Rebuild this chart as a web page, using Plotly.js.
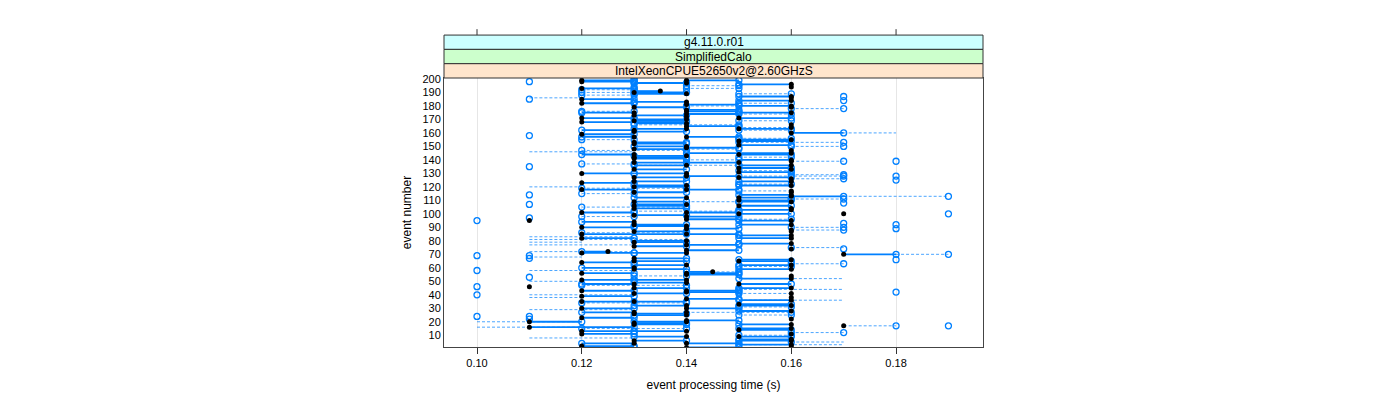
<!DOCTYPE html>
<html><head><meta charset="utf-8">
<script src="https://cdn.plot.ly/plotly-3.0.1.min.js"></script>
<style>html,body{margin:0;padding:0;background:#fff}#c{width:1400px;height:400px}</style>
</head><body><div id="c"></div>
<script>
// rows: event number, black (reference) time, blue time joined by a solid line, blue time joined by a dashed line
const evt = [
200,199,199,198,198,197,197,196,195,194,194,193,193,192,191,190,190,189,189,188,187,187,186,185,185,184,184,183,182,182,181,
180,179,179,178,177,176,176,175,175,174,173,172,171,171,170,169,169,168,167,166,166,165,164,163,163,162,162,161,
160,159,158,157,157,156,155,155,154,153,153,152,151,150,150,149,148,147,147,145,144,144,143,142,142,141,
140,139,139,138,138,137,136,136,135,134,133,133,132,131,130,130,129,128,128,127,127,126,125,124,124,123,122,121,121,120,
119,118,118,117,116,116,115,114,114,113,112,112,111,110,109,109,108,107,107,106,106,105,104,104,103,102,101,101,
100,100,100,99,98,98,97,96,95,95,95,94,93,92,92,92,91,90,90,89,89,88,87,87,86,85,85,84,82,82,
80,79,78,77,76,75,74,74,73,72,71,71,70,69,69,67,67,66,66,65,65,64,63,62,62,61,
60,59,59,58,57,56,56,55,54,54,53,52,51,51,49,48,48,47,46,46,45,45,44,43,43,42,42,41,41,
40,39,38,37,36,35,35,34,33,32,32,31,30,30,28,27,27,26,25,25,24,24,23,22,22,21,
20,20,19,18,18,17,17,16,15,15,14,13,13,12,11,11,10,9,9,7,6,6,5,4,4,3,2,2,1,1];
const tBlack = [
null,.12,.14,null,.12,null,.14,.16,null,null,.16,null,.12,null,.135,.13,null,null,.14,null,null,.16,.16,.12,null,null,.16,.14,null,.12,.14,
.16,.13,.16,null,.14,null,.14,.13,.16,.14,.13,.14,.15,.12,.14,null,.13,.12,.14,null,.16,.14,.16,.14,.15,null,.13,.13,
.16,.12,null,.13,.14,null,null,.16,.15,null,.13,.13,.15,null,.14,.14,.13,null,.16,.16,.13,.15,.14,null,.13,.13,
.16,.16,null,.13,.15,null,.14,.16,null,.15,.13,.16,null,.15,.14,.12,null,null,.14,.13,.15,.16,null,.16,.13,.12,null,.14,.16,.13,
null,.14,.12,.16,.13,.16,null,null,.16,.16,.14,.15,null,.15,.13,.16,null,null,.14,.15,.13,null,.13,.16,.16,null,.14,.12,
.17,null,.15,.13,null,.14,null,.14,.11,null,.16,.13,null,null,.16,.13,.14,null,.12,null,.14,.16,.13,.16,null,.12,.14,.16,.12,.16,
.14,.13,.16,.14,.13,null,null,.16,.14,.125,.14,.12,.17,null,null,null,.13,null,.16,.15,.13,.12,null,.14,.16,null,
.13,.16,.13,null,.145,.12,.14,.14,null,.16,null,.16,.12,.14,.14,.15,.13,null,.11,null,.13,.16,null,.12,.14,null,.14,.16,.13,
null,.12,.16,.14,.16,.13,.12,null,.15,.14,.16,null,.12,.14,.16,.14,.13,.13,null,.14,null,null,.12,null,.16,.14,
.11,.14,.13,.16,.13,.17,null,.11,null,.16,.15,.14,.12,null,.12,.16,null,.14,.15,.16,.13,.16,null,.14,.13,.16,.12,.16,.14,.12];
const tSolid = [
.13,.13,.15,.11,.13,.13,.13,.15,.14,.13,null,.15,.13,.12,.13,.14,.12,.15,.13,.12,.17,.15,null,.13,.11,.17,.15,.13,.15,.13,.15,
.15,.14,null,.17,.15,.12,.15,.12,.15,.15,.14,null,.16,.13,.13,.15,.14,.14,.13,.13,null,.15,null,.13,.16,.15,.12,.14,
.17,.13,.11,.12,.15,.16,.12,.15,.16,.17,.14,.14,.16,.17,.13,.15,.14,.12,null,.14,.12,.16,.13,.15,.14,.14,
.15,null,.18,.14,.14,.12,.13,.15,.11,.16,.14,null,.15,.16,.13,.13,.17,.18,.15,.14,.16,null,.18,.15,.14,.13,.15,.13,.15,.14,
.12,.15,.13,null,.14,null,.12,.11,.15,.17,.13,.16,.17,.16,.14,.15,.17,.11,.13,.16,.14,.12,.14,null,.15,.13,.15,.13,
null,.19,.16,.14,.12,.15,.11,.15,null,.10,.15,.12,.17,.18,.15,.14,.13,.17,.13,.18,.15,null,.14,null,.12,.14,.15,.15,.13,.15,
.13,.14,.15,.15,.14,.16,.17,null,.15,.12,.13,.13,.18,.10,.11,.11,.14,.18,.15,.16,.14,.13,.17,.13,.15,.15,
.12,.15,.14,.10,.14,.13,.15,.15,.13,null,.11,.15,.13,.13,.13,.16,.12,.12,null,.10,.14,.15,.15,.13,.15,.18,.15,null,.14,
.10,.13,null,.15,.15,.14,.13,.12,.16,.13,.15,.15,.13,.15,.15,null,.12,.14,.15,.13,.10,.11,.13,.11,null,.15,
.12,.13,.14,.15,.14,null,.19,.13,.12,.15,.16,.13,.13,.17,.13,null,.15,.13,.16,.15,.14,.15,.16,.15,.12,.15,.13,null,.15,.13];
const tDash = [
null,null,null,null,null,.14,null,null,.15,null,null,.14,null,.13,null,null,.13,.16,null,.13,null,null,null,null,null,null,null,null,.16,null,null,
.14,null,null,.16,null,.13,null,null,null,.16,null,null,null,null,null,.16,null,null,null,.15,null,null,.15,null,null,.16,null,null,
null,null,null,null,null,.15,.13,null,null,.15,null,null,null,.16,null,null,.15,.14,null,null,null,null,null,.16,null,null,
.14,.17,null,null,null,.13,.15,null,null,null,null,null,.16,null,null,null,.16,null,.17,null,null,.17,null,null,null,null,.16,null,null,null,
.14,null,null,.15,null,null,.13,null,null,.19,null,null,.16,null,.15,null,null,null,null,null,null,.14,null,null,null,.15,null,null,
null,null,null,null,.13,null,null,.16,null,null,null,null,null,null,null,null,null,.16,null,null,null,.17,null,null,.14,null,null,null,null,null,
null,null,null,null,null,null,null,null,null,null,null,null,.19,null,null,null,null,null,null,null,null,null,.16,null,null,.16,
null,null,null,null,.15,null,null,null,.14,null,null,null,null,null,null,null,null,.14,null,null,null,null,null,null,null,null,null,.15,null,
null,null,null,null,null,null,null,.14,null,null,null,.16,null,null,null,.16,null,null,.16,null,null,null,null,null,null,null,
null,null,null,null,null,.18,null,null,.14,null,null,null,null,.16,null,null,.16,null,null,null,null,null,null,null,null,null,null,null,null,null];
// dashed ranges drawn without end markers
const rangeEvt  = [186,160,146,120,83,81,79,77,72,68,75,58,50,52,44,40,38,36,29,20,16,8,5,3];
const rangeFrom = [.11,.17,.11,.11,.11,.11,.11,.11,.11,.11,.16,.11,.11,.15,.15,.11,.11,.15,.11,.10,.10,.11,.16,.15];
const rangeTo   = [.12,.18,.13,.12,.13,.14,.12,.13,.13,.12,.17,.13,.12,.17,.17,.13,.12,.17,.13,.12,.12,.13,.17,.17];

const xTicks = [0.10,0.12,0.14,0.16,0.18];
const xTickText = ['0.10','0.12','0.14','0.16','0.18'];
const yTicks = [10,20,30,40,50,60,70,80,90,100,110,120,130,140,150,160,170,180,190,200];
const stripLabels = ['g4.11.0.r01','SimplifiedCalo','IntelXeonCPUE52650v2@2.60GHzS'];
const stripColors = ['#CCFFFF','#CCFFCC','#FFE5CC'];

const sx=[],sy=[],dx=[],dy=[],bx=[],by=[],ux=[],uy=[];
for(let i=0;i<evt.length;i++){
  const e=evt[i],b=tBlack[i],s=tSolid[i],d=tDash[i];
  if(b!==null){bx.push(b);by.push(e);}
  if(s!==null){ux.push(s);uy.push(e);}
  if(d!==null){ux.push(d);uy.push(e);}
  if(b!==null&&s!==null){sx.push(b,s,null);sy.push(e,e,null);}
  const st=(s!==null)?s:b;
  if(st!==null&&d!==null){dx.push(st,d,null);dy.push(e,e,null);}
}
for(let i=0;i<rangeEvt.length;i++){dx.push(rangeFrom[i],rangeTo[i],null);dy.push(rangeEvt[i],rangeEvt[i],null);}
const blue='#0080ff';
const traces=[
 {x:dx,y:dy,mode:'lines',line:{color:'rgba(0,128,255,0.7)',width:1,dash:'3px,2px'},hoverinfo:'skip',connectgaps:false},
 {x:sx,y:sy,mode:'lines',line:{color:blue,width:1.8},hoverinfo:'skip',connectgaps:false},
 {x:ux,y:uy,mode:'markers',marker:{symbol:'circle-open',size:6,color:blue,line:{width:1.3,color:blue}}},
 {x:bx,y:by,mode:'markers',marker:{symbol:'circle',size:5,color:'black'}}
];
const h=0.0532;
const shapes=[],ann=[];
for(let k=0;k<3;k++){
  const y0=1+(2-k)*h,y1=y0+h;
  shapes.push({type:'rect',xref:'paper',yref:'paper',x0:0,x1:1,y0:y0,y1:y1,fillcolor:stripColors[k],line:{color:'#333',width:1},layer:'above'});
  ann.push({xref:'paper',yref:'paper',x:0.5,y:(y0+y1)/2,text:stripLabels[k],showarrow:false,font:{size:12,color:'#000'},xanchor:'center',yanchor:'middle'});
}
for(const t of xTicks){
  shapes.push({type:'line',xref:'x',yref:'paper',x0:t,x1:t,y0:1+3*h,y1:1+3*h+0.022,line:{color:'#333',width:1}});
}
const layout={
 width:1400,height:400,margin:{l:444,r:417,t:78,b:53},
 paper_bgcolor:'#fff',plot_bgcolor:'#fff',showlegend:false,
 font:{family:'Liberation Sans, Arial, sans-serif',size:11,color:'#000'},
 xaxis:{range:[0.0937,0.1966],tickvals:xTicks,ticktext:xTickText,ticks:'outside',ticklen:6,tickcolor:'#333',
   showgrid:true,gridcolor:'#e6e6e6',zeroline:false,showline:true,mirror:true,linecolor:'#444',linewidth:1,
   title:{text:'event processing time (s)',font:{size:12},standoff:12}},
 yaxis:{range:[1.3,200.7],tickvals:yTicks,ticks:'',showgrid:false,zeroline:false,showline:true,mirror:true,linecolor:'#444',linewidth:1,
   title:{text:'event number',font:{size:12},standoff:8}},
 shapes:shapes,annotations:ann
};
Plotly.newPlot('c',traces,layout,{staticPlot:true,displayModeBar:false});
</script></body></html>
